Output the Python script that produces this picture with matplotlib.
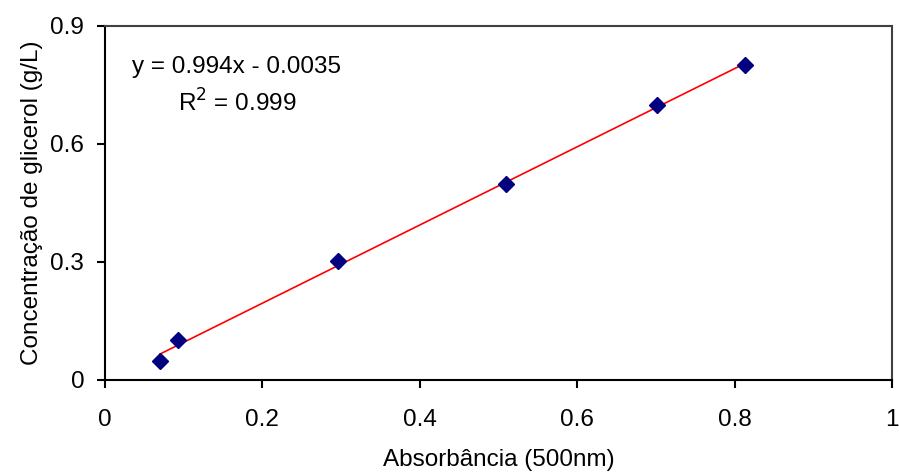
import matplotlib
matplotlib.use("Agg")
import matplotlib.pyplot as plt
import numpy as np

plt.rcParams['font.family'] = ['Liberation Sans', 'DejaVu Sans']

absorbance = [0.07, 0.093, 0.296, 0.510, 0.702, 0.813]
glycerol = [0.048, 0.102, 0.302, 0.498, 0.699, 0.800]
slope = 0.994
intercept = -0.0035
x_ticks = [0, 0.2, 0.4, 0.6, 0.8, 1]
x_tick_labels = ["0", "0.2", "0.4", "0.6", "0.8", "1"]
y_ticks = [0, 0.3, 0.6, 0.9]
y_tick_labels = ["0", "0.3", "0.6", "0.9"]

FS = 17.5

fig = plt.figure(figsize=(8.99, 4.74), dpi=100)
ax = fig.add_axes([105/899, 1-380/474, (892-105)/899, (380-26)/474])

xs = np.array([min(absorbance), max(absorbance)])
ax.plot(xs, slope*xs + intercept, color='#ff0000', lw=1.2, zorder=2)
ax.plot(absorbance, glycerol, linestyle='none', marker='D', ms=8.5,
        color='#000080', mec='#000080', zorder=3)

ax.set_xlim(0, 1)
ax.set_ylim(0, 0.9)
ax.set_xticks(x_ticks)
ax.set_xticklabels(x_tick_labels)
ax.set_yticks(y_ticks)
ax.set_yticklabels(y_tick_labels)
ax.tick_params(axis='both', direction='out', length=6, width=1.5, labelsize=FS, colors='black')
ax.tick_params(axis='x', pad=15)
ax.tick_params(axis='y', pad=9)

for s in ['left', 'bottom']:
    ax.spines[s].set_color('black')
    ax.spines[s].set_linewidth(1.5)
for s in ['top', 'right']:
    ax.spines[s].set_color('#404040')
    ax.spines[s].set_linewidth(1.5)

ax.set_xlabel('Absorbância (500nm)', fontsize=FS, labelpad=13)
ax.set_ylabel('Concentração de glicerol (g/L)', fontsize=FS, labelpad=5)

ax.text(236, 474-67, 'y = 0.994x - 0.0035', transform=None, ha='center', va='center', fontsize=FS)
ax.text(237, 474-103, 'R$^2$ = 0.999', transform=None, ha='center', va='center', fontsize=FS)

fig.savefig('out.png', dpi=100)
